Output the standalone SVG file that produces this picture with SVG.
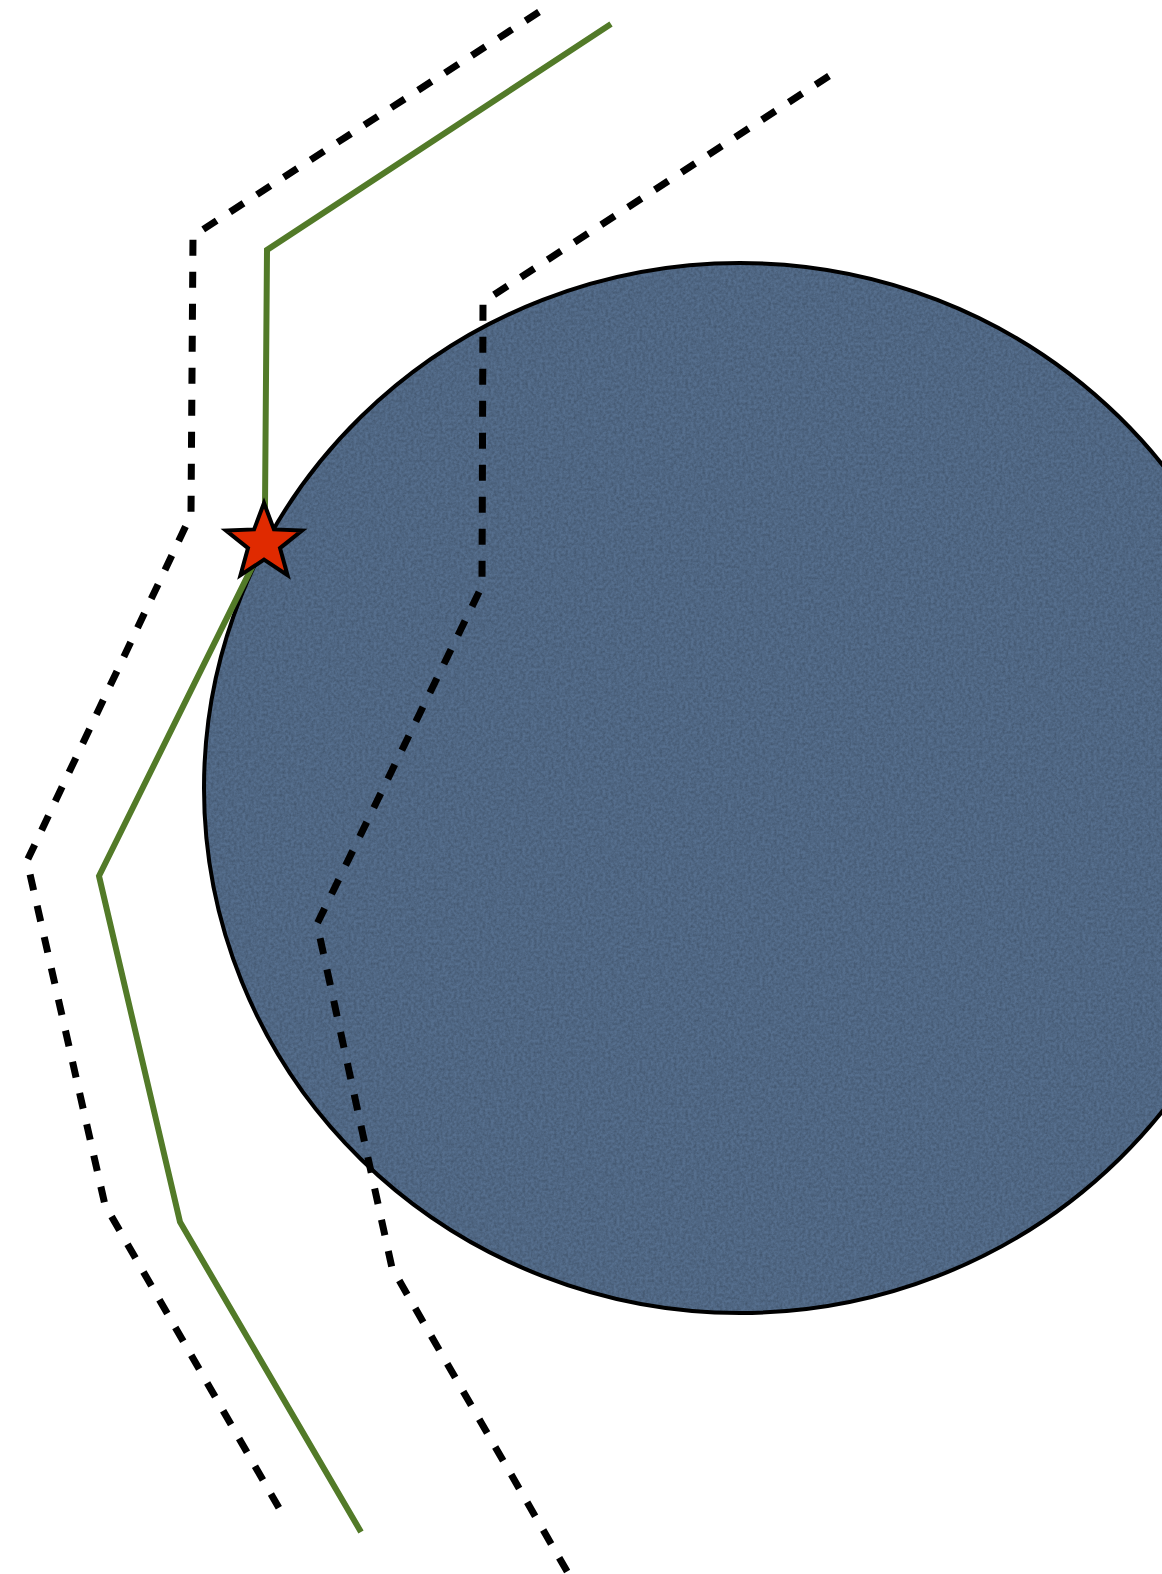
<svg xmlns="http://www.w3.org/2000/svg" width="1162" height="1574" viewBox="0 0 1162 1574">
  <style>
    .dash { fill: none; stroke: #000; stroke-width: 7; stroke-dasharray: 16 16; stroke-linejoin: miter; }
    .path { fill: none; stroke: #527a28; stroke-width: 6; stroke-linejoin: miter; }
    .outline { fill: none; stroke: #000; stroke-width: 4; }
  </style>
  <defs>
    <filter id="tex" x="0" y="0" width="100%" height="100%" color-interpolation-filters="sRGB">
      <feTurbulence type="fractalNoise" baseFrequency="0.35" numOctaves="3" seed="4" result="n"/>
      <feColorMatrix in="n" type="matrix" values="0 0 0 0 0  0 0 0 0 0  0 0 0 0 0  0.35 0 0 0 -0.1" result="dark"/>
      <feComposite in="dark" in2="SourceGraphic" operator="in" result="d2"/>
      <feMerge><feMergeNode in="SourceGraphic"/><feMergeNode in="d2"/></feMerge>
    </filter>
  </defs>
  <rect width="1162" height="1574" fill="#fff"/>
  <g id="planet">
    <ellipse cx="740" cy="788" rx="536" ry="525" fill="#566f8e" filter="url(#tex)"/>
    <ellipse class="outline" cx="740" cy="788" rx="536" ry="525"/>
  </g>
  <g id="connectors">
    <polyline id="bound-outer" class="dash" points="539,12 193,236 191,515 27,861 105,1205 279,1508"/>
    <polyline id="bound-inner" class="dash" points="829,76 483,302 482,586 317,924 392,1268 572,1580"/>
    <polyline id="trajectory" class="path" points="611,24 267,250 265,507 263,545 99,876 180,1222 361,1532"/>
  </g>
  <g id="star">
    <polygon points="264,503 273.9,529.4 302,530.6 280,548.1 287.5,575.2 264,559.7 240.5,575.2 248,548.1 226,530.6 254.1,529.4" fill="#e02a00" stroke="#000" stroke-width="4" stroke-linejoin="miter"/>
  </g>
</svg>
